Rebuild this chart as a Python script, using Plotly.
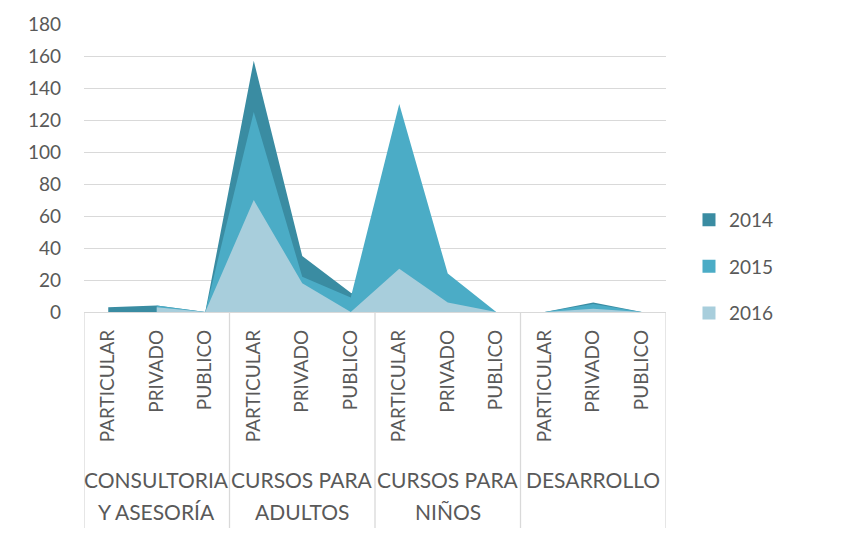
import plotly.graph_objects as go

group_line1 = ["CONSULTORIA", "CURSOS PARA", "CURSOS PARA", "DESARROLLO"]
group_line2 = ["Y ASESORÍA", "ADULTOS", "NIÑOS", ""]
subcats = ["PARTICULAR", "PRIVADO", "PUBLICO"]

years = ["2014", "2015", "2016"]
v2014 = [3, 4, 0, 157, 35, 12, 0, 0, 0, 0, 6, 0]
v2015 = [None, 4, 0, 125, 22, 9, 130, 24, 0, 0, 5, 0]
v2016 = [None, 3, 0, 70, 18, 0, 27, 6, 0, 0, 2, 0]
colors = ["#3A8CA2", "#4BACC6", "#A8CEDC"]

labels = [s for g in group_line1 for s in subcats]
xpos = list(range(len(labels)))

FONT = "Lato"
TXT = "#595959"
GRID = "#D9D9D9"

fig = go.Figure()
for name, vals, col in zip(years, [v2014, v2015, v2016], colors):
    fig.add_trace(go.Scatter(
        x=xpos, y=vals, mode="none", fill="tozeroy", fillcolor=col,
        connectgaps=False, showlegend=False, hoverinfo="skip"))
for name, col in zip(years, colors):
    fig.add_trace(go.Scatter(
        x=[None], y=[None], mode="markers", name=name, legendgroup=name,
        marker=dict(symbol="square", size=13, color=col)))

# group separators below the axis
n = len(subcats)
for k in range(len(group_line1) + 1):
    fig.add_shape(type="line", xref="x", yref="paper",
                  x0=k * n - 0.5, x1=k * n - 0.5, y0=0, y1=-0.75,
                  line=dict(color=GRID, width=1.3))

for k, (l1, l2) in enumerate(zip(group_line1, group_line2)):
    cx = k * n + (n - 1) / 2
    fig.add_annotation(x=cx, xref="x", y=-0.582, yref="paper", text=l1,
                       showarrow=False, yanchor="middle",
                       font=dict(family=FONT, size=21, color=TXT))
    if l2:
        fig.add_annotation(x=cx, xref="x", y=-0.692, yref="paper", text=l2,
                           showarrow=False, yanchor="middle",
                           font=dict(family=FONT, size=21, color=TXT))

fig.update_layout(
    width=852, height=535,
    margin=dict(l=84, r=186, t=19, b=223),
    paper_bgcolor="white", plot_bgcolor="white",
    font=dict(family=FONT, size=19, color=TXT),
    legend=dict(x=1.0395, xanchor="left", y=0.157, yanchor="middle",
                traceorder="grouped", tracegroupgap=19,
                font=dict(family=FONT, size=19, color=TXT)),
    xaxis=dict(range=[-0.5, len(labels) - 0.5], tickvals=xpos, ticktext=labels,
               tickangle=-90, showgrid=False, zeroline=False,
               showline=True, linecolor=GRID, linewidth=1.3, ticks="",
               ticklabelstandoff=9,
               tickfont=dict(family=FONT, size=19, color=TXT)),
    yaxis=dict(range=[0, 180], dtick=20, tick0=0, showgrid=True,
               gridcolor=GRID, gridwidth=1.3, zeroline=False, showline=False,
               ticks="", ticklabelstandoff=22,
               tickfont=dict(family=FONT, size=19, color=TXT)),
)

fig.write_html("out.html")
